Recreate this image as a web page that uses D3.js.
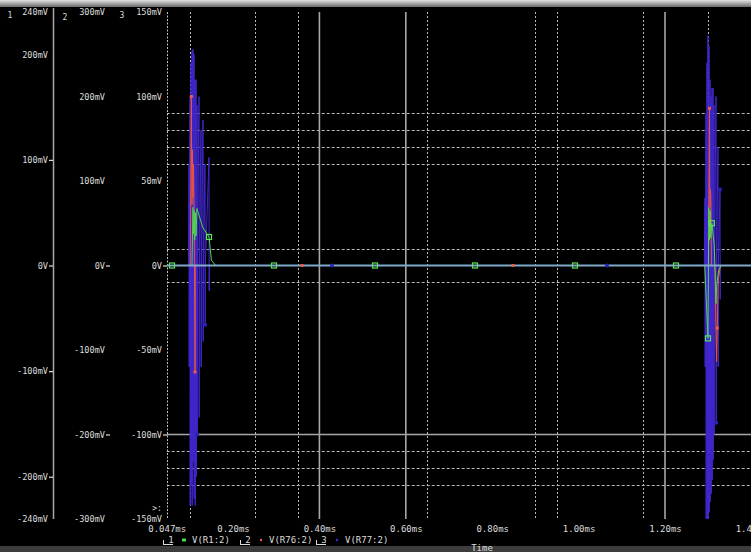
<!DOCTYPE html>
<html>
<head>
<meta charset="utf-8">
<script src="https://cdn.jsdelivr.net/npm/d3@7"></script>
<style>
  html, body { margin: 0; padding: 0; background: #000; }
  svg { display: block; }
  text { font-family: "DejaVu Sans Mono", monospace; font-size: 9px; fill: #dcdcdc; }
</style>
</head>
<body>
<svg id="chart" width="751" height="552"></svg>
<script>
// ---- trace data: [time (ms), value (mV)] ----
const traceNames = ["V(R1:2)", "V(R76:2)", "V(R77:2)"];

const traceR1 = [
  [0.0465, 0], [0.105, 0], [0.1074, 55], [0.108, 30], [0.110, 52], [0.1115, 24], [0.113, 50],
  [0.1145, 28], [0.1165, 54], [0.130, 36], [0.1445, 27], [0.150, 5], [0.160, 0],
  [1.292, 0], [1.2995, -69], [1.3015, 55], [1.303, 24], [1.3045, 52], [1.306, 26], [1.3085, 40],
  [1.314, 20], [1.3165, -14], [1.318, -36], [1.3195, -20], [1.324, -5], [1.330, 0], [1.4, 0]
];

const traceR76 = [
  [0.0465, 0], [0.1010, 0], [0.1028, 137], [0.1036, 200], [0.1040, 137], [0.1051, 72],
  [0.1062, 137], [0.1074, 80], [0.1085, 120], [0.1097, 75], [0.1108, 0], [0.1120, -126],
  [0.1128, 0], [0.126, 0],
  [1.296, 0], [1.3005, 0], [1.3019, 93], [1.3030, 186], [1.3036, 93], [1.3042, 69], [1.3053, 90],
  [1.3065, 72], [1.3076, 0], [1.3160, 0], [1.3170, -53], [1.3180, -79], [1.3195, -114],
  [1.3210, -74], [1.3230, -20], [1.328, 0], [1.4, 0]
];

const traceR77 = [
  [0.0465, 0], [0.097, 0],
  [0.0981, 60], [0.0985, -60], [0.1005, 100], [0.1009, -142], [0.1028, 120], [0.1032, -130],
  [0.1051, 127], [0.1055, -142], [0.1074, 128], [0.1078, -116], [0.1097, 125], [0.1101, -138],
  [0.1120, 110], [0.1124, -142], [0.1144, 110], [0.1148, -125], [0.1167, 95], [0.1171, -100],
  [0.1175, 0], [0.1213, 100], [0.1217, -90], [0.1221, 0], [0.1259, 80], [0.1263, -60], [0.1267, 0],
  [0.1306, 86], [0.1310, -45], [0.1314, 0], [0.1352, 60], [0.1356, -35], [0.1360, 0],
  [0.1444, 64], [0.1448, -15], [0.1452, 0],
  [1.291, 0], [1.2926, 40], [1.2930, -60], [1.2949, 90], [1.2953, -150], [1.2972, 120],
  [1.2976, -150], [1.2995, 136], [1.2999, -150], [1.3019, 130], [1.3023, -146], [1.3042, 110],
  [1.3046, -140], [1.3065, 100], [1.3069, -135], [1.3088, 105], [1.3092, -127], [1.3111, 105],
  [1.3115, -115], [1.3134, 95], [1.3138, -100], [1.3142, 0], [1.3181, 100], [1.3185, -93],
  [1.3189, 0], [1.3227, 70], [1.3231, -60], [1.3235, 0], [1.3273, 45], [1.3277, -20], [1.3281, 0],
  [1.4, 0]
];

// common idle level where all three traces lie on top of each other
const restLevel = [[0.0465, 0], [1.4, 0]];

// symbol markers placed on each trace
const marksR1 = [[0.0588, 0], [0.1445, 27], [0.2949, 0], [0.5287, 0], [0.7602, 0], [0.9917, 0],
                 [1.2255, 0], [1.2995, -69], [1.3085, 40]];
const marksR76 = [[0.1036, 200], [0.1120, -126], [0.3597, 0], [0.8481, 0], [1.3030, 186], [1.3210, -74]];
const marksR77 = [[0.1171, -100], [0.1356, -35], [0.4292, 0], [1.0657, 0], [1.3185, -93], [1.3273, 45]];

// ---- axes ----
const xDomain = [0.0465, 1.4];
const xTicks = [0.0465, 0.2, 0.4, 0.6, 0.8, 1.0, 1.2, 1.4];
const xTickLabels = ["0.047ms", "0.20ms", "0.40ms", "0.60ms", "0.80ms", "1.00ms", "1.20ms", "1.40ms"];

const y1Domain = [-240, 240];
const y1Ticks = [-240, -200, -100, 0, 100, 200, 240];
const y1Marked = [-200, -100, 0, 100];
const y2Domain = [-300, 300];
const y2Ticks = [-300, -200, -100, 0, 100, 200, 300];
const y2Marked = [-200, 0];
const y3Domain = [-150, 150];
const y3Ticks = [-150, -100, -50, 0, 50, 100, 150];
const y3Marked = [-100, 0];

// grid (time in ms, level in axis-3 mV)
const vGridSolid = [0.4, 0.6, 1.2];
const vGridDotted = [0.1, 0.25, 0.35, 0.65, 0.9, 0.95, 1.15, 1.3];
const hGridSolid = [-100];
const hGridDotted = [90, 80, 70, 60, 10, -10, -110, -120, -130];

// ---- drawing ----
const svg = d3.select("#chart");
const W = 751, H = 552;
const plot = { left: 166.7, right: 751.4, top: 12, bottom: 519 };

svg.append("rect").attr("width", W).attr("height", H).attr("fill", "#000");

const defs = svg.append("defs");
const topGrad = defs.append("linearGradient").attr("id", "topbar").attr("x1", 0).attr("x2", 0).attr("y1", 0).attr("y2", 1);
topGrad.append("stop").attr("offset", "0%").attr("stop-color", "#e2e2e2");
topGrad.append("stop").attr("offset", "100%").attr("stop-color", "#6a6a6a");
defs.append("clipPath").attr("id", "plotclip").append("rect")
  .attr("x", plot.left).attr("y", plot.top)
  .attr("width", plot.right - plot.left).attr("height", plot.bottom - plot.top);

// window bars
svg.append("rect").attr("x", 0).attr("y", 0).attr("width", W).attr("height", 7).attr("fill", "url(#topbar)");
svg.append("rect").attr("x", 0).attr("y", 546).attr("width", W).attr("height", 6).attr("fill", "#3c3c3c");

const x = d3.scaleLinear().domain(xDomain).range([plot.left, plot.right]);
const y1 = d3.scaleLinear().domain(y1Domain).range([plot.bottom, plot.top]);
const y2 = d3.scaleLinear().domain(y2Domain).range([plot.bottom, plot.top]);
const y3 = d3.scaleLinear().domain(y3Domain).range([plot.bottom, plot.top]);

const grid = svg.append("g").attr("clip-path", "url(#plotclip)");
grid.selectAll("line.hd").data(hGridDotted).join("line")
  .attr("x1", plot.left).attr("x2", plot.right)
  .attr("y1", d => Math.round(y3(d)) + 0.5).attr("y2", d => Math.round(y3(d)) + 0.5)
  .attr("stroke", "#b8b8b8").attr("stroke-width", 1).attr("stroke-dasharray", "3,2");
grid.selectAll("line.hs").data(hGridSolid).join("line")
  .attr("x1", plot.left).attr("x2", plot.right)
  .attr("y1", d => y3(d)).attr("y2", d => y3(d))
  .attr("stroke", "#a6a6a6").attr("stroke-width", 1.6);
grid.selectAll("line.vd").data(vGridDotted).join("line")
  .attr("x1", d => Math.round(x(d)) + 0.5).attr("x2", d => Math.round(x(d)) + 0.5)
  .attr("y1", plot.top).attr("y2", plot.bottom)
  .attr("stroke", "#b8b8b8").attr("stroke-width", 1).attr("stroke-dasharray", "2,2");
grid.selectAll("line.vs").data(vGridSolid).join("line")
  .attr("x1", d => x(d)).attr("x2", d => x(d))
  .attr("y1", plot.top).attr("y2", plot.bottom)
  .attr("stroke", "#a6a6a6").attr("stroke-width", 1.6);

// left edge of the plot area (axis 3 line) and axis 1 line
svg.append("line").attr("x1", 167.5).attr("x2", 167.5).attr("y1", plot.top).attr("y2", plot.bottom)
  .attr("stroke", "#c0c0c0").attr("stroke-dasharray", "2,1.5");
svg.append("line").attr("x1", 53.5).attr("x2", 53.5).attr("y1", 8).attr("y2", plot.bottom)
  .attr("stroke", "#a8a8a8").attr("stroke-width", 1.5);

// axes
function yAxis(scale, ticks, marked, xpos) {
  const g = svg.append("g").attr("transform", `translate(${xpos},0)`)
    .call(d3.axisLeft(scale).tickValues(ticks).tickSize(0).tickPadding(5)
      .tickFormat(v => v === 0 ? "0V" : v + "mV"));
  g.select(".domain").remove();
  g.selectAll(".tick text").attr("fill", "#dcdcdc").style("font-family", "DejaVu Sans Mono").style("font-size", "8.6px");
  g.selectAll(".tick line").attr("x2", d => marked.includes(d) ? -4 : 0).attr("stroke", "#dcdcdc").attr("stroke-width", 1.2);
  return g;
}
yAxis(y1, y1Ticks, y1Marked, 53);
yAxis(y2, y2Ticks, y2Marked, 110);
yAxis(y3, y3Ticks, y3Marked, 167);

const xg = svg.append("g").attr("transform", `translate(0,${plot.bottom})`)
  .call(d3.axisBottom(x).tickValues(xTicks).tickSize(0).tickPadding(7)
    .tickFormat((d, i) => xTickLabels[i]));
xg.select(".domain").remove();
xg.selectAll(".tick text").attr("fill", "#dcdcdc").style("font-family", "DejaVu Sans Mono").style("font-size", "9px");

// axis numbers
[["1", 10, 15], ["2", 65, 17], ["3", 122, 15]].forEach(([t, px, py]) =>
  svg.append("text").attr("x", px).attr("y", py).attr("dy", "0.32em").attr("text-anchor", "middle")
    .style("font-size", "8px").text(t));
svg.append("text").attr("x", 157).attr("y", 508).attr("dy", "0.32em").attr("text-anchor", "middle")
  .style("font-size", "8px").text(">:");

// traces: the ringing of V(R77:2) underneath, the other two on top
const colors = ["#52d44e", "#e8553f", "#4128cf"];
const scales = [y1, y2, y3];
const traces = [traceR1, traceR76, traceR77];
const drawOrder = [2, 1, 0];

const traceLayer = svg.append("g").attr("clip-path", "url(#plotclip)");
drawOrder.forEach(i => {
  const line = d3.line().x(d => x(d[0])).y(d => scales[i](d[1]));
  traceLayer.append("path").datum(traces[i]).attr("d", line)
    .attr("fill", "none").attr("stroke", colors[i]).attr("stroke-width", 1);
});

const restLine = d3.line().x(d => x(d[0])).y(d => y3(d[1]));
traceLayer.append("path").datum(restLevel).attr("d", restLine)
  .attr("fill", "none").attr("stroke", "#7eaacb").attr("stroke-width", 2);

// markers
traceLayer.selectAll("rect.m1").data(marksR1).join("rect")
  .attr("x", d => x(d[0]) - 2.5).attr("y", d => y1(d[1]) - 2.5).attr("width", 5).attr("height", 5)
  .attr("fill", "none").attr("stroke", "#5ee25a").attr("stroke-width", 1.2);
traceLayer.selectAll("rect.m2").data(marksR76).join("rect")
  .attr("x", d => x(d[0]) - 1.5).attr("y", d => y2(d[1]) - 1.5).attr("width", 3).attr("height", 3)
  .attr("fill", "#ef5a4a");
traceLayer.selectAll("circle.m3").data(marksR77).join("circle")
  .attr("cx", d => x(d[0])).attr("cy", d => y3(d[1])).attr("r", 2)
  .attr("fill", "#2a22b8");

// legend
const legendX = [163, 240, 316];
const lg = svg.append("g").selectAll("g").data(traceNames).join("g")
  .attr("transform", (d, i) => `translate(${legendX[i]},540)`);
lg.append("text").attr("x", 8).attr("y", 0).attr("dy", "0.32em").attr("text-anchor", "middle")
  .text((d, i) => String(i + 1));
lg.append("line").attr("x1", 0).attr("x2", 10).attr("y1", 4.5).attr("y2", 4.5).attr("stroke", "#dcdcdc");
lg.append("line").attr("x1", 0.5).attr("x2", 0.5).attr("y1", 0).attr("y2", 4.5).attr("stroke", "#dcdcdc");
lg.each(function (d, i) {
  const g = d3.select(this);
  if (i === 0) {
    g.append("rect").attr("x", 19).attr("y", -1.5).attr("width", 4).attr("height", 3).attr("fill", colors[0]);
  } else {
    g.append("circle").attr("cx", 21).attr("cy", 0).attr("r", 1.2).attr("fill", i === 1 ? "#ef5a4a" : "#3a30d0");
  }
});
lg.append("text").attr("x", 29).attr("y", 0).attr("dy", "0.32em").text(d => d);

svg.append("text").attr("x", 482).attr("y", 548).attr("dy", "0.32em").attr("text-anchor", "middle").text("Time");
</script>
</body>
</html>
